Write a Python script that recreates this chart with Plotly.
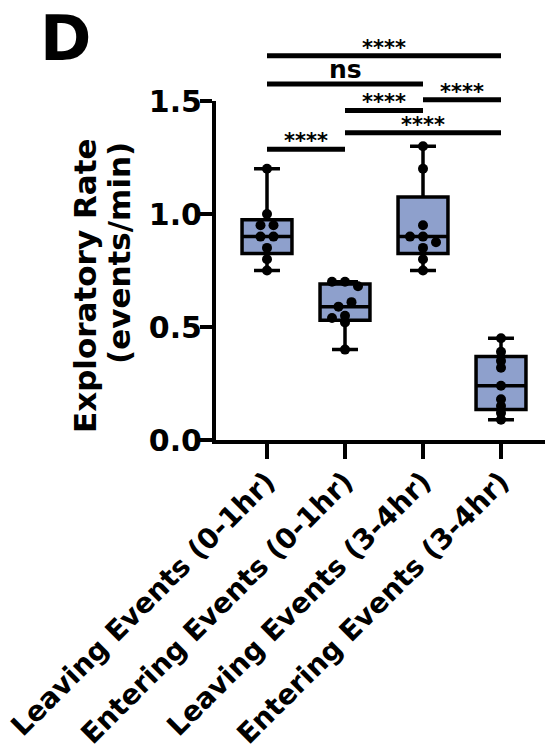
import plotly.graph_objects as go

# ---------------- data ----------------
categories = [
    "Leaving Events (0-1hr)",
    "Entering Events (0-1hr)",
    "Leaving Events (3-4hr)",
    "Entering Events (3-4hr)",
]
leaving_0_1 = [1.20, 1.00, 0.95, 0.95, 0.90, 0.90, 0.85, 0.80, 0.75]
entering_0_1 = [0.70, 0.70, 0.68, 0.61, 0.59, 0.55, 0.54, 0.52, 0.40]
leaving_3_4 = [1.30, 1.20, 0.95, 0.90, 0.90, 0.875, 0.85, 0.80, 0.75]
entering_3_4 = [0.45, 0.39, 0.35, 0.32, 0.24, 0.18, 0.15, 0.12, 0.09]

y_ticks = [0.0, 0.5, 1.0, 1.5]
y_tick_labels = ["0.0", "0.5", "1.0", "1.5"]

# significance comparisons (group a, group b, label, bar level in data units)
comparison_a = [0, 0, 2, 1, 1, 0]
comparison_b = [3, 2, 3, 2, 3, 1]
comparison_label = ["****", "ns", "****", "****", "****", "****"]
comparison_level = [1.700, 1.575, 1.505, 1.458, 1.360, 1.287]

# ---------------- styling / geometry ----------------
FONT = "DejaVu Sans"
BOX_FILL = "#8EA0CC"
W, H = 545, 750
M_L, M_R, M_T, M_B = 216, 0, 20, 310
PLOT_W = W - M_L - M_R
PLOT_H = H - M_T - M_B
PX_PER_X = 78.0
X0_PX = 267.0
Y_TOP_PX = 101.0  # pixel of 1.5
PX_PER_Y = (H - M_B - Y_TOP_PX) / 1.5
x_lo = -(X0_PX - M_L) / PX_PER_X
x_hi = x_lo + PLOT_W / PX_PER_X
y_domain_top = (H - M_B - Y_TOP_PX) / PLOT_H
y2_top = PLOT_H / PX_PER_Y


def swarm(vals, step_px=13.0, min_dy_px=6.0):
    """Simple greedy beeswarm: offsets in pixels."""
    order = sorted(range(len(vals)), key=lambda i: -vals[i])
    off = {}
    for i in order:
        for cand in (0.0, -step_px, step_px, -2 * step_px, 2 * step_px):
            ok = True
            for j, o in off.items():
                if abs(o - cand) < step_px / 2 and abs(vals[i] - vals[j]) * PX_PER_Y < min_dy_px:
                    ok = False
                    break
            if ok:
                off[i] = cand
                break
    # recentre isolated colliding pairs
    n = len(vals)
    for i in range(n):
        partners = [j for j in range(n) if j != i and abs(vals[i] - vals[j]) * PX_PER_Y < min_dy_px]
        if len(partners) == 1:
            j = partners[0]
            others = [k for k in range(n) if k != j and abs(vals[j] - vals[k]) * PX_PER_Y < min_dy_px]
            if len(others) == 1 and i < j:
                m = (off[i] + off[j]) / 2
                off[i] -= m
                off[j] -= m
    return [off[i] for i in range(n)]


def paper_x(px):
    return (px - M_L) / PLOT_W


def paper_y(py):
    return (H - M_B - py) / PLOT_H


fig = go.Figure()
groups = [leaving_0_1, entering_0_1, leaving_3_4, entering_3_4]

for gi, vals in enumerate(groups):
    fig.add_trace(go.Box(
        x=[gi] * len(vals), y=vals,
        boxpoints=False, fillcolor=BOX_FILL,
        line=dict(color="black", width=3.5),
        width=0.64, whiskerwidth=0.52,
        quartilemethod="exclusive",
        showlegend=False, hoverinfo="skip",
    ))

for gi, vals in enumerate(groups):
    offs = swarm(vals)
    fig.add_trace(go.Scatter(
        x=[gi + o / PX_PER_X for o in offs], y=vals,
        mode="markers", marker=dict(color="black", size=10),
        showlegend=False, hoverinfo="skip",
    ))

for a, b, lab, lvl in zip(comparison_a, comparison_b, comparison_label, comparison_level):
    fig.add_trace(go.Scatter(
        x=[a, b], y=[lvl, lvl], mode="lines",
        line=dict(color="black", width=5),
        xaxis="x", yaxis="y2", showlegend=False, hoverinfo="skip",
    ))
    is_ns = lab == "ns"
    fig.add_annotation(
        x=(a + b) / 2, y=lvl, xref="x", yref="y2",
        text=lab, showarrow=False, xanchor="center", yanchor="bottom",
        yshift=-2 if is_ns else -6,
        font=dict(family=FONT, size=25 if is_ns else 21, color="black", weight="bold"),
    )

# y-axis title (two lines)
fig.add_annotation(x=paper_x(85), y=paper_y(286), xref="paper", yref="paper",
                   text="Exploratory Rate", textangle=-90, showarrow=False,
                   xanchor="center", yanchor="middle",
                   font=dict(family=FONT, size=31, color="black", weight="bold"))
fig.add_annotation(x=paper_x(119), y=paper_y(253), xref="paper", yref="paper",
                   text="(events/min)", textangle=-90, showarrow=False,
                   xanchor="center", yanchor="middle",
                   font=dict(family=FONT, size=31, color="black", weight="bold"))
# panel letter
fig.add_annotation(x=paper_x(65.5), y=paper_y(0), xref="paper", yref="paper",
                   text="D", showarrow=False, xanchor="center", yanchor="top",
                   font=dict(family=FONT, size=62, color="black", weight="bold"))

fig.update_layout(
    width=W, height=H,
    margin=dict(l=M_L, r=M_R, t=M_T, b=M_B, autoexpand=False),
    plot_bgcolor="rgba(0,0,0,0)", paper_bgcolor="white",
    boxmode="overlay",
    xaxis=dict(
        range=[x_lo, x_hi], tickmode="array", tickvals=list(range(len(categories))),
        ticktext=categories, tickangle=-45, automargin=False,
        ticklabeloverflow="allow", ticklabelstandoff=-5,
        showline=True, linecolor="black", linewidth=4,
        ticks="outside", ticklen=15, tickwidth=4, tickcolor="black",
        showgrid=False, zeroline=False,
        tickfont=dict(family=FONT, size=28, color="black", weight="bold"),
    ),
    yaxis=dict(
        domain=[0, y_domain_top], range=[0, 1.5], automargin=False,
        tickmode="array", tickvals=y_ticks, ticktext=y_tick_labels,
        showline=True, linecolor="black", linewidth=4,
        ticks="outside", ticklen=12, tickwidth=4, tickcolor="black",
        ticklabelstandoff=-8,
        showgrid=False, zeroline=False,
        tickfont=dict(family=FONT, size=30, color="black", weight="bold"),
    ),
    yaxis2=dict(domain=[0, 1], range=[0, y2_top], visible=False, anchor="x",
                automargin=False, showgrid=False, zeroline=False),
)

fig.write_html("out.html")
